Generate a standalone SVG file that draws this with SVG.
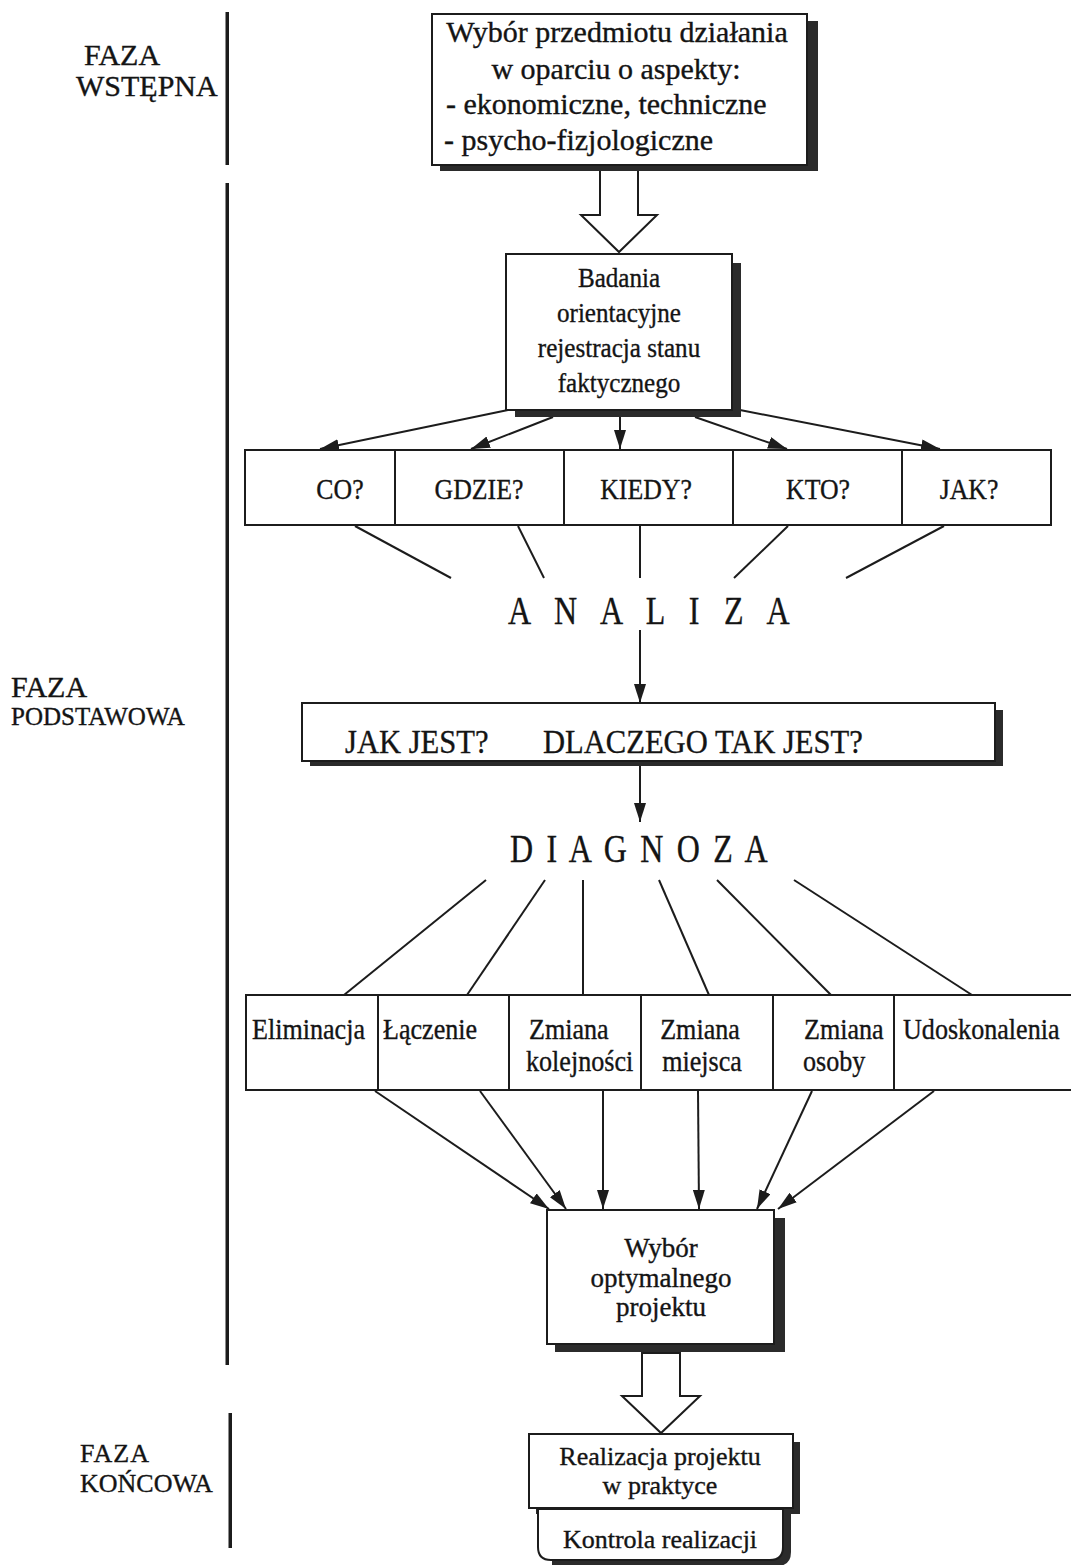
<svg xmlns="http://www.w3.org/2000/svg" width="1071" height="1565" viewBox="0 0 1071 1565">
  <defs>
    <style>
      text { font-family: "Liberation Serif", "Times New Roman", serif; fill: #141414; stroke: #141414; stroke-width: 0.35px; }
      .t31 { font-size: 31px; }
      .t30 { font-size: 30px; }
      .t27 { font-size: 27px; }
      .t26 { font-size: 26px; }
      .t25 { font-size: 25px; }
      .q { font-size: 30px; }
      .opt { font-size: 29px; }
      .key { font-size: 34px; }
      .mid { text-anchor: middle; }
      .spaced { font-size: 40px; }
      .box { fill: #ffffff; stroke: #1c1c1c; stroke-width: 2; }
      .shadow { fill: #2b2b2b; }
      .line { stroke: #1c1c1c; stroke-width: 2; fill: none; }
      .arrow { stroke: #1c1c1c; stroke-width: 2; fill: none; marker-end: url(#head); }
      .hollow { fill: #ffffff; stroke: #1c1c1c; stroke-width: 2; stroke-linejoin: miter; }
      .phase { fill: #1c1c1c; }
    </style>
    <marker id="head" markerUnits="userSpaceOnUse" markerWidth="20" markerHeight="12" refX="19" refY="6" orient="auto">
      <path d="M0,0 L19,6 L0,12 z" fill="#1c1c1c"/>
    </marker>
  </defs>

  <rect width="1071" height="1565" fill="#ffffff"/>

  <!-- phase separator bar -->
  <g id="phase-bar">
    <rect class="phase" x="225.5" y="12" width="3.5" height="153"/>
    <rect class="phase" x="225.5" y="183" width="3.5" height="1182"/>
    <rect class="phase" x="228.5" y="1413" width="3.5" height="135"/>
  </g>

  <!-- phase labels -->
  <g id="label-wstepna">
    <text class="t30" x="84" y="65">FAZA</text>
    <text class="t30" x="76" y="96">WSTĘPNA</text>
  </g>
  <g id="label-podstawowa">
    <text class="t30" x="11" y="697">FAZA</text>
    <text class="t25" x="11" y="725">PODSTAWOWA</text>
  </g>
  <g id="label-koncowa">
    <text class="t26" x="80" y="1462" letter-spacing="1">FAZA</text>
    <text class="t26" x="80" y="1492">KOŃCOWA</text>
  </g>

  <!-- connectors -->
  <g id="connectors">
    <!-- hollow block arrows -->
    <path class="hollow" d="M600,166 L638,166 L638,215 L657,215 L619,252 L581,215 L600,215 Z"/>
    <path class="hollow" d="M642,1353 L680,1353 L680,1396 L700,1396 L661,1433 L622,1396 L642,1396 Z"/>

    <!-- survey box to question row -->
    <line class="arrow" x1="508" y1="410" x2="320" y2="449"/>
    <line class="arrow" x1="553" y1="417" x2="471" y2="449"/>
    <line class="arrow" x1="620" y1="417" x2="620" y2="449"/>
    <line class="arrow" x1="695" y1="417" x2="787" y2="449"/>
    <line class="arrow" x1="740" y1="410" x2="940" y2="449"/>

    <!-- question row to ANALIZA -->
    <line class="line" x1="355" y1="526" x2="451" y2="578"/>
    <line class="line" x1="518" y1="526" x2="544" y2="578"/>
    <line class="line" x1="640" y1="526" x2="640" y2="578"/>
    <line class="line" x1="788" y1="526" x2="734" y2="578"/>
    <line class="line" x1="944" y1="526" x2="846" y2="578"/>

    <!-- ANALIZA to question box, box to DIAGNOZA -->
    <line class="arrow" x1="640" y1="630" x2="640" y2="703"/>
    <line class="arrow" x1="640" y1="766" x2="640" y2="822"/>

    <!-- DIAGNOZA to improvement row -->
    <line class="line" x1="486" y1="880" x2="344" y2="995"/>
    <line class="line" x1="545" y1="880" x2="467" y2="995"/>
    <line class="line" x1="583" y1="880" x2="583" y2="995"/>
    <line class="line" x1="659" y1="880" x2="709" y2="995"/>
    <line class="line" x1="717" y1="880" x2="831" y2="995"/>
    <line class="line" x1="794" y1="880" x2="972" y2="995"/>

    <!-- improvement row to project choice -->
    <line class="arrow" x1="375" y1="1091" x2="549" y2="1209"/>
    <line class="arrow" x1="480" y1="1091" x2="566" y2="1209"/>
    <line class="arrow" x1="603" y1="1091" x2="603" y2="1209"/>
    <line class="arrow" x1="698" y1="1091" x2="699" y2="1209"/>
    <line class="arrow" x1="812" y1="1091" x2="757" y2="1209"/>
    <line class="arrow" x1="934" y1="1091" x2="778" y2="1209"/>
  </g>

  <!-- subject selection -->
  <g id="node-wybor-przedmiotu">
    <rect class="shadow" x="806" y="21" width="12" height="150"/>
    <rect class="shadow" x="440" y="164" width="378" height="7"/>
    <rect class="box" x="432" y="14" width="375" height="151"/>
    <text class="t30 mid" x="617" y="42">Wybór przedmiotu działania</text>
    <text class="t30 mid" x="616" y="79">w oparciu o aspekty:</text>
    <text class="t30" x="446" y="114">- ekonomiczne, techniczne</text>
    <text class="t30" x="444" y="150">- psycho-fizjologiczne</text>
  </g>

  <!-- orientation survey -->
  <g id="node-badania">
    <rect class="shadow" x="731" y="263" width="10" height="154"/>
    <rect class="shadow" x="515" y="409" width="226" height="8"/>
    <rect class="box" x="506" y="254" width="226" height="156"/>
    <g transform="translate(619,0) scale(0.93,1)">
      <text class="t27 mid" x="0" y="287">Badania</text>
      <text class="t27 mid" x="0" y="322">orientacyjne</text>
      <text class="t27 mid" x="0" y="357">rejestracja stanu</text>
      <text class="t27 mid" x="0" y="392">faktycznego</text>
    </g>
  </g>

  <!-- question row -->
  <g id="node-pytania">
    <rect class="box" x="245" y="450" width="806" height="75"/>
    <line class="line" x1="395" y1="450" x2="395" y2="525"/>
    <line class="line" x1="564" y1="450" x2="564" y2="525"/>
    <line class="line" x1="733" y1="450" x2="733" y2="525"/>
    <line class="line" x1="902" y1="450" x2="902" y2="525"/>
  </g>
  <g id="node-co"><text class="q mid" transform="translate(340,499) scale(0.86,1)">CO?</text></g>
  <g id="node-gdzie"><text class="q mid" transform="translate(479,499) scale(0.86,1)">GDZIE?</text></g>
  <g id="node-kiedy"><text class="q mid" transform="translate(646,499) scale(0.86,1)">KIEDY?</text></g>
  <g id="node-kto"><text class="q mid" transform="translate(818,499) scale(0.86,1)">KTO?</text></g>
  <g id="node-jak"><text class="q mid" transform="translate(969,499) scale(0.86,1)">JAK?</text></g>

  <!-- analysis -->
  <g id="node-analiza">
    <text class="spaced" transform="translate(508,624) scale(0.8,1)" textLength="352" lengthAdjust="spacing">A N A L I Z A</text>
  </g>

  <!-- key questions -->
  <g id="node-jak-jest">
    <rect class="shadow" x="994" y="710" width="9" height="56"/>
    <rect class="shadow" x="310" y="760" width="693" height="6"/>
    <rect class="box" x="302" y="703" width="693" height="58"/>
    <text class="key" transform="translate(345,753) scale(0.9,1)">JAK JEST?</text>
    <text class="key" transform="translate(543,753) scale(0.9,1)">DLACZEGO TAK JEST?</text>
  </g>

  <!-- diagnosis -->
  <g id="node-diagnoza">
    <text class="spaced" transform="translate(510,862) scale(0.8,1)" textLength="322" lengthAdjust="spacing">D I A G N O Z A</text>
  </g>

  <!-- improvement options row -->
  <g id="node-opcje">
    <rect class="box" x="246" y="995" width="830" height="95"/>
    <line class="line" x1="378" y1="995" x2="378" y2="1090"/>
    <line class="line" x1="509" y1="995" x2="509" y2="1090"/>
    <line class="line" x1="641" y1="995" x2="641" y2="1090"/>
    <line class="line" x1="773" y1="995" x2="773" y2="1090"/>
    <line class="line" x1="894" y1="995" x2="894" y2="1090"/>
  </g>
  <g id="node-eliminacja"><text class="opt" transform="translate(252,1039) scale(0.9,1)">Eliminacja</text></g>
  <g id="node-laczenie"><text class="opt" transform="translate(383,1039) scale(0.9,1)">Łączenie</text></g>
  <g id="node-kolejnosc">
    <text class="opt" transform="translate(529,1039) scale(0.9,1)">Zmiana</text>
    <text class="opt" transform="translate(526,1071) scale(0.9,1)">kolejności</text>
  </g>
  <g id="node-miejsce">
    <text class="opt mid" transform="translate(700,1039) scale(0.9,1)">Zmiana</text>
    <text class="opt mid" transform="translate(702,1071) scale(0.9,1)">miejsca</text>
  </g>
  <g id="node-osoba">
    <text class="opt" transform="translate(804,1039) scale(0.9,1)">Zmiana</text>
    <text class="opt" transform="translate(803,1071) scale(0.9,1)">osoby</text>
  </g>
  <g id="node-udoskonalenia"><text class="opt" transform="translate(903,1039) scale(0.9,1)">Udoskonalenia</text></g>

  <!-- optimal project choice -->
  <g id="node-wybor-projektu">
    <rect class="shadow" x="773" y="1218" width="12" height="134"/>
    <rect class="shadow" x="555" y="1343" width="230" height="9"/>
    <rect class="box" x="547" y="1210" width="227" height="134"/>
    <text class="t27 mid" x="661" y="1257">Wybór</text>
    <text class="t27 mid" x="661" y="1287">optymalnego</text>
    <text class="t27 mid" x="661" y="1316">projektu</text>
  </g>

  <!-- implementation -->
  <g id="node-realizacja">
    <rect class="shadow" x="792" y="1442" width="8" height="72"/>
    <rect class="shadow" x="536" y="1507" width="264" height="7"/>
    <rect class="box" x="529" y="1434" width="264" height="74"/>
    <text class="t26 mid" x="660" y="1465">Realizacja projektu</text>
    <text class="t26 mid" x="660" y="1494">w praktyce</text>
  </g>

  <!-- implementation control -->
  <g id="node-kontrola">
    <path class="shadow" d="M783,1514 L791,1514 L791,1552 Q791,1566 777,1566 L552,1566 L552,1558 L770,1558 Q783,1558 783,1546 Z"/>
    <path class="box" d="M538,1509 L783,1509 L783,1547 Q783,1560 770,1560 L551,1560 Q538,1560 538,1547 Z"/>
    <text class="t26 mid" x="660" y="1548">Kontrola realizacji</text>
  </g>
</svg>
